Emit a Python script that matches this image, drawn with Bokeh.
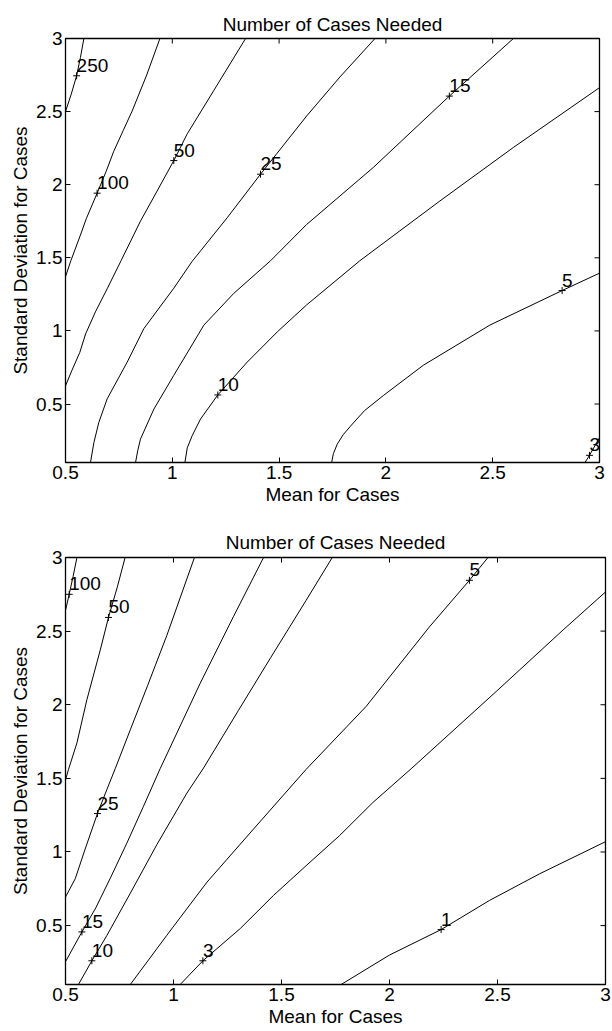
import math
from bokeh.plotting import figure
from bokeh.layouts import column
from bokeh.models import FixedTicker, Range1d, ColumnDataSource
from bokeh.core.properties import value
from bokeh.embed import file_html
from bokeh.resources import INLINE

FONT = "Liberation Sans"
FS = "19px"

title_text = "Number of Cases Needed"
x_label = "Mean for Cases"
y_label = "Standard Deviation for Cases"

x_ticks = [0.5, 1, 1.5, 2, 2.5, 3]
x_tick_labels = ["0.5", "1", "1.5", "2", "2.5", "3"]
y_ticks = [0.5, 1, 1.5, 2, 2.5, 3]
y_tick_labels = ["0.5", "1", "1.5", "2", "2.5", "3"]
x_lim = (0.5, 3.0)
y_lim = (0.1, 3.0)

# ---------------- top chart: contour lines ----------------
top_c250_x = [0.500, 0.527, 0.552, 0.570, 0.586]
top_c250_y = [2.50, 2.62, 2.745, 2.87, 3.00]
top_c100_x = [0.500, 0.525, 0.570, 0.598, 0.648, 0.690, 0.726, 0.770, 0.812, 0.880, 0.942]
top_c100_y = [1.37, 1.48, 1.656, 1.770, 1.942, 2.090, 2.229, 2.370, 2.504, 2.750, 3.00]
top_c50_x = [0.500, 0.530, 0.567, 0.594, 0.640, 0.695, 0.760, 0.851, 0.929, 1.007, 1.070, 1.195, 1.343]
top_c50_y = [0.624, 0.730, 0.853, 0.979, 1.130, 1.288, 1.480, 1.751, 1.957, 2.165, 2.348, 2.646, 3.00]
top_c25_x = [0.617, 0.633, 0.656, 0.695, 0.789, 0.867, 1.007, 1.093, 1.257, 1.413, 1.629, 1.785, 1.949]
top_c25_y = [0.10, 0.237, 0.374, 0.535, 0.787, 1.016, 1.292, 1.476, 1.774, 2.072, 2.470, 2.737, 3.00]
top_c15_x = [0.828, 0.838, 0.851, 0.914, 1.007, 1.148, 1.288, 1.460, 1.629, 1.941, 2.297, 2.597]
top_c15_y = [0.10, 0.180, 0.260, 0.466, 0.696, 1.040, 1.257, 1.480, 1.728, 2.118, 2.606, 3.00]
top_c10_x = [1.059, 1.070, 1.093, 1.132, 1.213, 1.351, 1.492, 1.629, 1.878, 2.253, 2.597, 3.000]
top_c10_y = [0.10, 0.200, 0.283, 0.397, 0.562, 0.787, 0.994, 1.178, 1.480, 1.889, 2.255, 2.664]
top_c5_x = [1.746, 1.754, 1.772, 1.800, 1.832, 1.900, 1.988, 2.175, 2.487, 2.825, 3.000]
top_c5_y = [0.10, 0.160, 0.225, 0.290, 0.345, 0.455, 0.558, 0.765, 1.040, 1.276, 1.395]
top_c3_x = [2.932, 2.953, 3.000]
top_c3_y = [0.10, 0.149, 0.270]

top_lab_x = [0.552, 0.648, 1.007, 1.413, 2.297, 1.213, 2.825, 2.953]
top_lab_y = [2.745, 1.942, 2.165, 2.072, 2.606, 0.562, 1.276, 0.149]
top_lab_txt = ["250", "100", "50", "25", "15", "10", "5", "3"]

# ---------------- bottom chart ----------------
bot_c100_x = [0.500, 0.517, 0.535, 0.553]
bot_c100_y = [2.64, 2.75, 2.87, 3.00]
bot_c50_x = [0.500, 0.514, 0.553, 0.599, 0.661, 0.699, 0.740, 0.776]
bot_c50_y = [1.49, 1.561, 1.741, 2.034, 2.372, 2.593, 2.800, 3.00]
bot_c25_x = [0.500, 0.545, 0.591, 0.648, 0.692, 0.730, 0.800, 0.880, 0.969, 1.097]
bot_c25_y = [0.694, 0.818, 1.020, 1.261, 1.426, 1.565, 1.830, 2.130, 2.470, 3.00]
bot_c15_x = [0.500, 0.576, 0.640, 0.710, 0.784, 0.861, 0.938, 1.124, 1.278, 1.417]
bot_c15_y = [0.255, 0.457, 0.620, 0.830, 1.060, 1.310, 1.565, 2.147, 2.600, 3.00]
bot_c10_x = [0.560, 0.622, 0.692, 0.800, 0.923, 1.062, 1.139, 1.300, 1.450, 1.614, 1.735]
bot_c10_y = [0.10, 0.261, 0.434, 0.720, 1.050, 1.400, 1.570, 1.960, 2.320, 2.709, 3.00]
bot_c5_x = [0.800, 0.969, 1.155, 1.370, 1.614, 1.892, 2.185, 2.370, 2.456]
bot_c5_y = [0.10, 0.434, 0.795, 1.155, 1.561, 1.989, 2.529, 2.845, 3.00]
bot_c3_x = [1.031, 1.136, 1.309, 1.463, 1.614, 1.768, 1.923, 2.100, 2.494, 2.803, 3.000]
bot_c3_y = [0.10, 0.261, 0.480, 0.705, 0.907, 1.110, 1.336, 1.565, 2.090, 2.507, 2.766]
bot_c1_x = [1.776, 2.000, 2.239, 2.463, 2.694, 3.000]
bot_c1_y = [0.10, 0.300, 0.473, 0.671, 0.851, 1.070]

bot_lab_x = [0.517, 0.699, 0.648, 0.576, 0.622, 2.370, 1.136, 2.239]
bot_lab_y = [2.750, 2.593, 1.261, 0.457, 0.261, 2.845, 0.261, 0.473]
bot_lab_txt = ["100", "50", "25", "15", "10", "5", "3", "1"]

top_lines_x = [top_c250_x, top_c100_x, top_c50_x, top_c25_x, top_c15_x, top_c10_x, top_c5_x, top_c3_x]
top_lines_y = [top_c250_y, top_c100_y, top_c50_y, top_c25_y, top_c15_y, top_c10_y, top_c5_y, top_c3_y]
bot_lines_x = [bot_c100_x, bot_c50_x, bot_c25_x, bot_c15_x, bot_c10_x, bot_c5_x, bot_c3_x, bot_c1_x]
bot_lines_y = [bot_c100_y, bot_c50_y, bot_c25_y, bot_c15_y, bot_c10_y, bot_c5_y, bot_c3_y, bot_c1_y]


def style_axis(ax, labels, ticks):
    ax.ticker = FixedTicker(ticks=ticks)
    ax.major_tick_in = 5
    ax.major_tick_out = 0
    ax.minor_tick_in = 0
    ax.minor_tick_out = 0
    ax.major_tick_line_color = "black"
    ax.axis_line_color = "black"
    ax.axis_line_width = 1
    ax.major_label_overrides = {t: l for t, l in zip(ticks, labels)}
    ax.major_label_text_font = FONT
    ax.major_label_text_font_size = FS
    ax.major_label_text_color = "black"
    ax.major_label_standoff = 3
    ax.axis_label_text_font = FONT
    ax.axis_label_text_font_size = FS
    ax.axis_label_text_font_style = "normal"
    ax.axis_label_text_color = "black"
    ax.axis_label_standoff = 2


def make_plot(lines_x, lines_y, lab_x, lab_y, lab_txt, fw, fh, btop, bbottom, bright, tstand):
    p = figure(frame_width=fw, frame_height=fh,
               x_range=Range1d(*x_lim), y_range=Range1d(*y_lim),
               output_backend="svg", toolbar_location=None,
               min_border_left=65, min_border_right=bright,
               min_border_top=btop, min_border_bottom=bbottom,
               title=title_text, x_axis_label=x_label, y_axis_label=y_label)
    p.title.text_font = FONT
    p.title.text_font_size = FS
    p.title.text_font_style = "normal"
    p.title.align = "center"
    p.title.text_color = "black"
    p.title.standoff = tstand
    p.xgrid.visible = False
    p.ygrid.visible = False
    p.outline_line_color = "black"
    p.outline_line_width = 1.3
    p.background_fill_color = "white"
    p.border_fill_color = "white"
    style_axis(p.xaxis[0], x_tick_labels, x_ticks)
    style_axis(p.yaxis[0], y_tick_labels, y_ticks)

    # mirrored tick marks on the top and right edges (half of each dash is clipped by the frame)
    p.scatter(x=x_ticks, y=[y_lim[1]] * len(x_ticks), marker="dash", angle=math.pi / 2,
              size=10, line_color="black", line_width=1)
    p.scatter(x=[x_lim[1]] * len(y_ticks), y=y_ticks, marker="dash", angle=0,
              size=10, line_color="black", line_width=1)

    p.multi_line(xs=lines_x, ys=lines_y, line_color="black", line_width=1)
    src = ColumnDataSource(dict(x=lab_x, y=lab_y, t=lab_txt))
    p.scatter("x", "y", source=src, marker="cross", size=7, line_color="black", line_width=1)
    p.text("x", "y", text="t", source=src, text_font=value(FONT), text_font_size=FS,
           text_color="black", text_align="left", text_baseline="bottom", x_offset=0, y_offset=-4)
    return p


p1 = make_plot(top_lines_x, top_lines_y, top_lab_x, top_lab_y, top_lab_txt,
               534, 424, 38, 48, 8, 7)
p2 = make_plot(bot_lines_x, bot_lines_y, bot_lab_x, bot_lab_y, bot_lab_txt,
               540, 427, 47, 47, 7, 10)

layout = column(p1, p2)
open("out.html", "w").write(file_html(layout, INLINE))
